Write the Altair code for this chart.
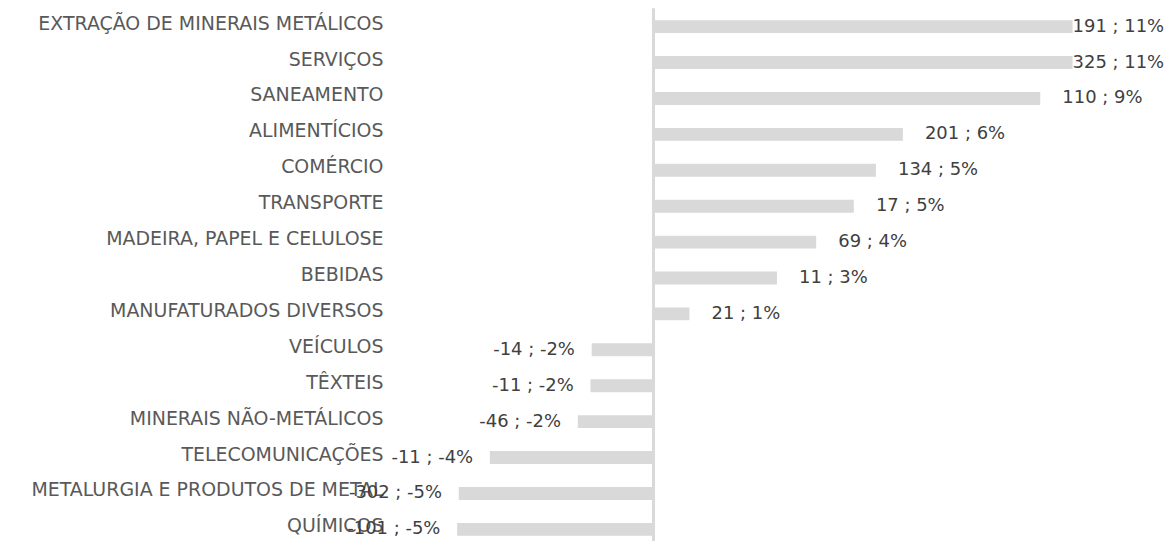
import altair as alt
import pandas as pd

categories = [
    "EXTRAÇÃO DE MINERAIS METÁLICOS", "SERVIÇOS", "SANEAMENTO", "ALIMENTÍCIOS",
    "COMÉRCIO", "TRANSPORTE", "MADEIRA, PAPEL E CELULOSE", "BEBIDAS",
    "MANUFATURADOS DIVERSOS", "VEÍCULOS", "TÊXTEIS", "MINERAIS NÃO-METÁLICOS",
    "TELECOMUNICAÇÕES", "METALURGIA E PRODUTOS DE METAL", "QUÍMICOS",
]
pct = [10.25, 10.25, 9.46, 6.1, 5.44, 4.9, 3.98, 3.02, 0.88,
       -1.51, -1.54, -1.85, -4.0, -4.76, -4.8]
labels = ["191 ; 11%", "325 ; 11%", "110 ; 9%", "201 ; 6%", "134 ; 5%", "17 ; 5%",
          "69 ; 4%", "11 ; 3%", "21 ; 1%", "-14 ; -2%", "-11 ; -2%", "-46 ; -2%",
          "-11 ; -4%", "-302 ; -5%", "-101 ; -5%"]

df = pd.DataFrame({"cat": categories, "pct": pct, "label": labels})

FONT = "DejaVu Sans"
CAT_FS = 19
LBL_FS = 18
xscale = alt.Scale(domain=[-6.32, 12.51], nice=False, zero=False)
yscale = alt.Scale(domain=categories, paddingInner=0.64, paddingOuter=0.32)

base = alt.Chart(df)

bars = base.mark_bar(color="#d9d9d9").encode(
    x=alt.X("pct:Q", scale=xscale, axis=None),
    y=alt.Y("cat:N", scale=yscale, sort=categories,
            axis=alt.Axis(title=None, domain=False, ticks=False, labelPadding=12,
                          labelOffset=-3, labelLimit=0, labelFont=FONT,
                          labelFontSize=CAT_FS, labelColor="#595959")),
)

zero_rule = base.mark_rule(color="#d9d9d9", strokeWidth=1.5).encode(
    x=alt.datum(0, scale=xscale),
)

pos_text = base.transform_filter("datum.pct > 0").transform_calculate(
    lx="min(datum.pct + 0.54, 10.25)"
).mark_text(align="left", baseline="middle", font=FONT, fontSize=LBL_FS,
            color="#404040").encode(
    x=alt.X("lx:Q", scale=xscale),
    y=alt.Y("cat:N", scale=yscale, sort=categories),
    text="label:N",
)

neg_text = base.transform_filter("datum.pct < 0").transform_calculate(
    lx="datum.pct - 0.41"
).mark_text(align="right", baseline="middle", font=FONT, fontSize=LBL_FS,
            color="#404040").encode(
    x=alt.X("lx:Q", scale=xscale),
    y=alt.Y("cat:N", scale=yscale, sort=categories),
    text="label:N",
)

chart = alt.layer(bars, zero_rule, pos_text, neg_text).properties(
    width=772, height=540,
    autosize=alt.AutoSizeParams(type="none"),
    padding={"left": 388, "top": 0, "right": 0, "bottom": 0},
).configure_view(stroke=None)

chart.save("out.html", embed_options={"renderer": "svg", "actions": False})
